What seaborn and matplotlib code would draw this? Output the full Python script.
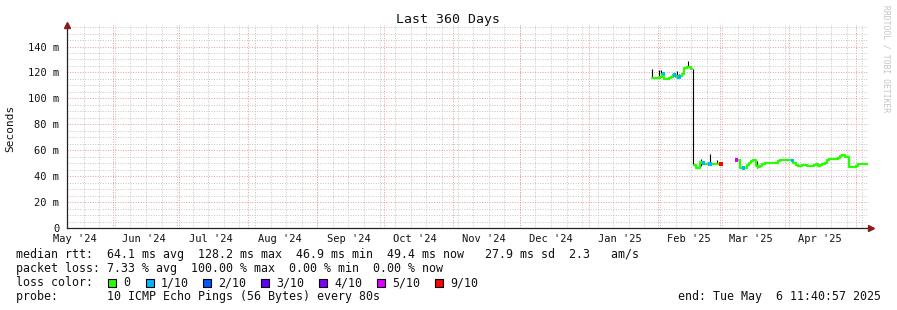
import matplotlib
matplotlib.use("Agg")
import matplotlib.pyplot as plt
import matplotlib.dates as mdates
from matplotlib.ticker import MultipleLocator, FuncFormatter
from matplotlib.patches import Rectangle
import numpy as np
import pandas as pd
import seaborn as sns

# ---------------- data ----------------
START = "2024-05-11 11:40:57"
END = "2025-05-06 11:40:57"

seg1_start = "2025-01-29 12:00"
seg1_ms = [115.5, 115.5, 115.5, 116.0, 116.5, 119.0, 114.7, 115.0, 116.0, 116.5,
           118.0, 116.5, 116.5, 117.0, 118.5, 123.5, 124.0, 124.0, 122.7]
seg1_loss = [0, 0, 0, 0, 0, 1, 0, 0, 0, 0, 1, 0, 1, 0, 0, 0, 0, 0, 0]

seg2_start = "2025-02-17 12:00"
seg2_ms = [48.6, 46.5, 46.0, 51.0, 50.0, 49.5, 49.5, 49.5, 49.5, 49.5, 49.5, 49.5, 49.5]
seg2_loss = [0, 0, 0, 0, 1, 0, 0, 1, 0, 0, 0, 0, 9]

seg3_start = "2025-03-08 12:00"
seg3_ms = [52.5, 52.5, 46.0, 46.3, 46.5, 48.5, 50.0, 51.5, 52.3, 48.0,
           47.3, 48.0, 49.5, 49.9, 49.9, 49.9, 49.9, 50.0, 50.0, 51.5,
           52.3, 52.3, 52.5, 52.3, 52.3, 52.3, 50.0, 48.3, 48.2, 48.2,
           48.6, 48.6, 48.2, 48.2, 48.2, 48.6, 49.0, 47.5, 48.6, 49.3,
           50.5, 52.5, 53.3, 53.3, 53.3, 53.3, 54.0, 55.3, 56.3, 54.5,
           54.5, 47.3, 47.3, 47.3, 47.5, 49.5, 49.5, 49.5, 49.5, 49.4]
seg3_loss = [5, 0, 0, 1, 0, 0, 0, 0, 0, 0,
             0, 0, 0, 0, 0, 0, 0, 0, 0, 0,
             0, 0, 0, 0, 0, 1, 0, 0, 0, 0,
             0, 0, 0, 0, 0, 0, 0, 0, 0, 0,
             0, 0, 0, 0, 0, 0, 0, 0, 0, 0,
             0, 0, 0, 0, 0, 0, 0, 0, 0, 0]

smoke_times = ["2025-01-29 12:00", "2025-02-01 12:00", "2025-02-02 12:00", "2025-02-07 12:00",
               "2025-02-09 12:00", "2025-02-10 12:00", "2025-02-11 12:00", "2025-02-14 12:00",
               "2025-02-17 00:00", "2025-02-20 12:00", "2025-02-24 12:00", "2025-02-27 12:00",
               "2025-03-10 00:00", "2025-03-17 12:00"]
smoke_lo = [115.5, 116.0, 116.5, 116.5, 116.5, 116.5, 117.0, 124.0, 48.6, 48.0, 50.0, 50.0, 46.0, 46.0]
smoke_hi = [123.0, 122.0, 122.0, 119.0, 121.0, 119.0, 119.0, 129.0, 122.7, 53.0, 57.0, 52.5, 52.5, 52.0]

loss_labels = ["0", "1/10", "2/10", "3/10", "4/10", "5/10", "9/10"]
loss_levels = [0, 1, 2, 3, 4, 5, 9]
loss_colors = ["#26ff00", "#00b8ff", "#0059ff", "#5e00ff", "#7e00ff", "#dd00ff", "#ff0000"]

title = "Last 360 Days"
ylabel = "Seconds"
line_rtt = "median rtt:  64.1 ms avg  128.2 ms max  46.9 ms min  49.4 ms now   27.9 ms sd  2.3   am/s"
line_loss = "packet loss: 7.33 % avg  100.00 % max  0.00 % min  0.00 % now"
line_color = "loss color:"
line_probe = "probe:       10 ICMP Echo Pings (56 Bytes) every 80s"
line_end = "end: Tue May  6 11:40:57 2025"
watermark = "RRDTOOL / TOBI OETIKER"

# ---------------- build frame ----------------
frames = []
for i, (st, ms, ls) in enumerate([(seg1_start, seg1_ms, seg1_loss),
                                  (seg2_start, seg2_ms, seg2_loss),
                                  (seg3_start, seg3_ms, seg3_loss)]):
    t = pd.date_range(st, periods=len(ms), freq="D")
    frames.append(pd.DataFrame({"time": t, "ms": ms, "loss": ls, "segment": i}))
df = pd.concat(frames, ignore_index=True)
color_map = dict(zip(loss_levels, loss_colors))

# ---------------- figure ----------------
sns.set_theme(style="white")
plt.rcParams['font.family'] = ['DejaVu Sans Mono', 'DejaVu Sans']

W, H = 897, 310
fig = plt.figure(figsize=(W / 100, H / 100), dpi=100, facecolor="white")
left, right, top, bottom = 67, 868, 25, 228
ax = fig.add_axes([left / W, 1 - bottom / H, (right - left) / W, (bottom - top) / H])
ax.set_facecolor("white")

GRAY = "#c6c6c6"
RED = "#eb9797"
dots = (0, (1, 1.6))

# weekly minor grid
for d in pd.date_range("2024-05-19", END, freq="7D"):
    ax.axvline(d, color=GRAY, lw=0.7, ls=dots, zorder=0)

# smoke
ax.vlines(pd.to_datetime(smoke_times), smoke_lo, smoke_hi, color="black", lw=0.8, zorder=2)

# median line
sns.lineplot(data=df, x="time", y="ms", units="segment", estimator=None,
             color=loss_colors[0], lw=1.6, drawstyle="steps-mid", ax=ax,
             legend=False, zorder=3)
lossy = df[df["loss"] > 0]
sns.scatterplot(data=lossy, x="time", y="ms", hue="loss", palette=color_map,
                marker="s", s=6, linewidth=0, ax=ax, legend=False, zorder=4)

ax.set_xlim(pd.Timestamp(START), pd.Timestamp(END))
ax.set_ylim(0, 156.6)

ax.xaxis.set_major_locator(mdates.MonthLocator())
ax.xaxis.set_major_formatter(plt.NullFormatter())
ax.xaxis.set_minor_locator(mdates.MonthLocator(bymonthday=15))
ax.xaxis.set_minor_formatter(mdates.DateFormatter("%b '%y"))
ax.yaxis.set_major_locator(MultipleLocator(20))
ax.yaxis.set_minor_locator(MultipleLocator(5))
ax.yaxis.set_major_formatter(FuncFormatter(lambda v, p: "0" if v == 0 else f"{int(round(v))} m"))

ax.grid(which="major", axis="both", color=RED, lw=0.7, ls=dots, zorder=0)
ax.grid(which="minor", axis="y", color=GRAY, lw=0.7, ls=dots, zorder=0)
ax.set_axisbelow(True)

ax.tick_params(axis="x", which="major", length=2, color=RED, direction="out")
ax.tick_params(axis="x", which="minor", length=0, pad=4, labelsize=7.5, labelcolor="#111111")
ax.tick_params(axis="y", which="major", length=3, color="#777777", direction="inout", pad=4,
               labelsize=7.5, labelcolor="#111111")
ax.tick_params(axis="y", which="minor", length=2, color="#aaaaaa", direction="inout")
ax.set_xlabel("")
ax.set_ylabel("")

for s in ["top", "right"]:
    ax.spines[s].set_visible(False)
for s in ["left", "bottom"]:
    ax.spines[s].set_color("#222222")
    ax.spines[s].set_linewidth(0.9)

ARROW = "#8b1a1a"
ax.plot([0], [1.0], marker="^", color=ARROW, markersize=4.5, transform=ax.transAxes, clip_on=False, zorder=6)
ax.plot([1.004], [0], marker=">", color=ARROW, markersize=4.5, transform=ax.transAxes, clip_on=False, zorder=6)

def fx(px):
    return px / W

def fy(py):
    return 1 - py / H

fig.text(fx(447.5), fy(19), title, ha="center", va="center", fontsize=9.5, color="#111111")
fig.text(fx(10.5), fy(128), ylabel, ha="center", va="center", rotation=90, fontsize=8, color="#111111")
fig.text(fx(886), fy(59), watermark, ha="center", va="center", rotation=270, fontsize=5.8, color="#c4c4c4")

FS = 8.4
fig.text(fx(16), fy(254.5), line_rtt, ha="left", va="center", fontsize=FS, color="#111111")
fig.text(fx(16), fy(268.5), line_loss, ha="left", va="center", fontsize=FS, color="#111111")
fig.text(fx(16), fy(282.5), line_color, ha="left", va="center", fontsize=FS, color="#111111")
fig.text(fx(16), fy(296.5), line_probe, ha="left", va="center", fontsize=FS, color="#111111")
fig.text(fx(881), fy(296.5), line_end, ha="right", va="center", fontsize=FS, color="#111111")

box_x = [108, 146, 203, 261, 319, 377, 435]
for bx, lab, col in zip(box_x, loss_labels, loss_colors):
    fig.patches.append(Rectangle((fx(bx), fy(286.5)), 8 / W, 8 / H, transform=fig.transFigure,
                                 facecolor=col, edgecolor="black", lw=0.8))
    fig.text(fx(bx + 15), fy(282.5), lab, ha="left", va="center", fontsize=FS, color="#111111")

fig.savefig("out.png", dpi=100, facecolor="white")
